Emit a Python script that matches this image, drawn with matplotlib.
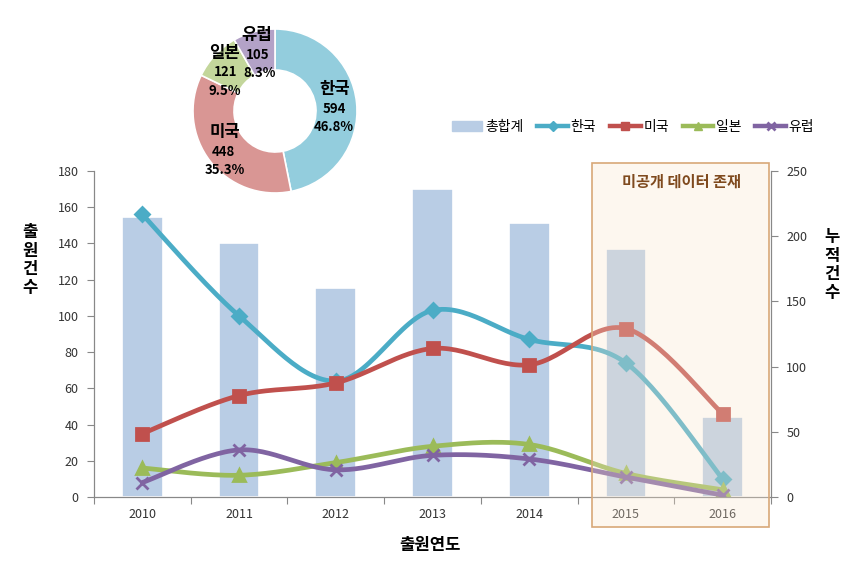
import numpy as np
import matplotlib
matplotlib.use('Agg')
import matplotlib.pyplot as plt
from matplotlib.patches import Rectangle, Patch
from matplotlib.lines import Line2D

plt.rcParams['font.family'] = ['Noto Sans CJK KR', 'DejaVu Sans']

# 데이터
years = ['2010', '2011', '2012', '2013', '2014', '2015', '2016']
total = [215, 195, 160, 236, 210, 190, 61]      # 총합계 (누적건수, 우축)
korea = [156, 100, 64, 103, 87, 74, 10]
usa = [35, 56, 63, 82, 73, 93, 46]
japan = [16, 12, 19, 28, 29, 13, 4]
europe = [8, 26, 15, 23, 21, 11, 1]

pie_names = ['한국', '미국', '일본', '유럽']
pie_counts = [594, 448, 121, 105]

c_bar = '#b9cde5'
c_kor = '#4bacc6'
c_usa = '#c0504d'
c_jpn = '#9bbb59'
c_eur = '#8064a2'
pie_colors = ['#93cddd', '#d99694', '#c3d69b', '#b3a2c7']


def smooth(y, n=30):
    # 엑셀식 곡선 (catmull-rom 베지어)
    x = np.arange(len(y), dtype=float)
    pts = np.column_stack([x, np.asarray(y, dtype=float)])
    out = []
    for i in range(len(pts) - 1):
        p0 = pts[max(i - 1, 0)]
        p1 = pts[i]
        p2 = pts[i + 1]
        p3 = pts[min(i + 2, len(pts) - 1)]
        c1 = p1 + (p2 - p0) / 6
        c2 = p2 - (p3 - p1) / 6
        t = np.linspace(0, 1, n)[:, None]
        seg = ((1 - t) ** 3) * p1 + 3 * ((1 - t) ** 2) * t * c1 + 3 * (1 - t) * t ** 2 * c2 + t ** 3 * p2
        out.append(seg)
    out = np.vstack(out)
    return out[:, 0], out[:, 1]


fig = plt.figure(figsize=(8.56, 5.68), dpi=100)
ax = fig.add_axes([94 / 856, 71 / 568, 677 / 856, 326 / 568])
ax2 = ax.twinx()

x = np.arange(len(years))
ax2.bar(x, total, width=0.42, color=c_bar, edgecolor='white', linewidth=1.2)
ax2.set_ylim(0, 250)
ax2.set_yticks(range(0, 251, 50))

series = [(korea, c_kor, 'D', 7), (usa, c_usa, 's', 8), (japan, c_jpn, '^', 8), (europe, c_eur, 'x', 8)]
for vals, col, mk, ms in series:
    sx, sy = smooth(vals)
    ax.plot(sx, sy, color=col, lw=3.4, solid_capstyle='round')
    ax.plot(x, vals, ls='none', marker=mk, ms=ms, color=col, mew=2)

ax.set_zorder(ax2.get_zorder() + 1)
ax.patch.set_visible(False)
ax.set_xlim(-0.5, 6.5)
ax.set_ylim(0, 180)
ax.set_yticks(range(0, 181, 20))

ax.set_xticks(np.arange(-0.5, 7, 1))
ax.set_xticklabels([])
ax.set_xticks(x, minor=True)
ax.set_xticklabels(years, minor=True)
ax.tick_params(axis='x', which='minor', length=0, pad=8)
ax.tick_params(axis='x', which='major', length=5, color='#888888')
ax.tick_params(axis='y', length=5, color='#888888', labelsize=9, labelcolor='#333333', pad=6)
ax.tick_params(axis='x', which='minor', labelsize=9, labelcolor='#333333')
ax2.tick_params(axis='y', length=5, color='#888888', labelsize=9, labelcolor='#333333', pad=6)

for a in (ax, ax2):
    a.spines['top'].set_visible(False)
    for s in ('left', 'right', 'bottom'):
        a.spines[s].set_color('#888888')

fig.text(30 / 856, 1 - 260 / 568, '출\n원\n건\n수', ha='center', va='center',
         fontsize=12, fontweight='bold', linespacing=1.05)
fig.text(832 / 856, 1 - 265 / 568, '누\n적\n건\n수', ha='center', va='center',
         fontsize=12, fontweight='bold', linespacing=1.05)
fig.text(430 / 856, 1 - 545 / 568, '출원연도', ha='center', va='center',
         fontsize=12, fontweight='bold')

# 미공개 데이터 영역
fig.patches.append(Rectangle((592 / 856, 41 / 568), 177 / 856, 364 / 568,
                             transform=fig.transFigure, facecolor=(250 / 255, 230 / 255, 205 / 255, 0.3),
                             edgecolor='#d8a878', linewidth=1.2, zorder=5))
fig.text(682 / 856, 1 - 182 / 568, '미공개 데이터 존재', ha='center', va='center',
         fontsize=11, fontweight='bold', fontstyle='italic', color='#7f4a1e', zorder=6)

# 범례
handles = [Patch(color=c_bar),
           Line2D([], [], color=c_kor, lw=3.2, marker='D', ms=5),
           Line2D([], [], color=c_usa, lw=3.2, marker='s', ms=6),
           Line2D([], [], color=c_jpn, lw=3.2, marker='^', ms=6),
           Line2D([], [], color=c_eur, lw=3.2, marker='x', ms=6, mew=2)]
fig.legend(handles, ['총합계', '한국', '미국', '일본', '유럽'], loc='center',
           bbox_to_anchor=(633 / 856, 1 - 127 / 568), ncol=5, frameon=False,
           fontsize=10, handlelength=2.2, handletextpad=0.2, columnspacing=1.0)

# 도넛 차트
r = 82
pax = fig.add_axes([(275 - r) / 856, (568 - 111 - r) / 568, 2 * r / 856, 2 * r / 568])
pax.pie(pie_counts, colors=pie_colors, startangle=90, counterclock=False,
        wedgeprops=dict(width=0.5, edgecolor='white', linewidth=1.2))
pax.set_xlim(-1, 1)
pax.set_ylim(-1, 1)
pax.set_aspect('equal')

tot = sum(pie_counts)
# (이름 x, y), (건수 x, y), (비율 x, y)
pie_pos = [((335, 89), (334, 109), (334, 127)),
           ((225, 132), (223, 152), (225, 170)),
           ((225, 53), (226, 72), (225, 91)),
           ((257, 35), (258, 55), (260, 73))]
for name, cnt, (pn, pc, pp) in zip(pie_names, pie_counts, pie_pos):
    fig.text(pn[0] / 856, 1 - pn[1] / 568, name, ha='center', va='center',
             fontsize=12, fontweight='bold', zorder=7)
    fig.text(pc[0] / 856, 1 - pc[1] / 568, f'{cnt}', ha='center', va='center',
             fontsize=9.5, fontweight='bold', zorder=7)
    fig.text(pp[0] / 856, 1 - pp[1] / 568, f'{cnt / tot * 100:.1f}%', ha='center', va='center',
             fontsize=9.5, fontweight='bold', zorder=7)

fig.savefig('out.png', dpi=100)
